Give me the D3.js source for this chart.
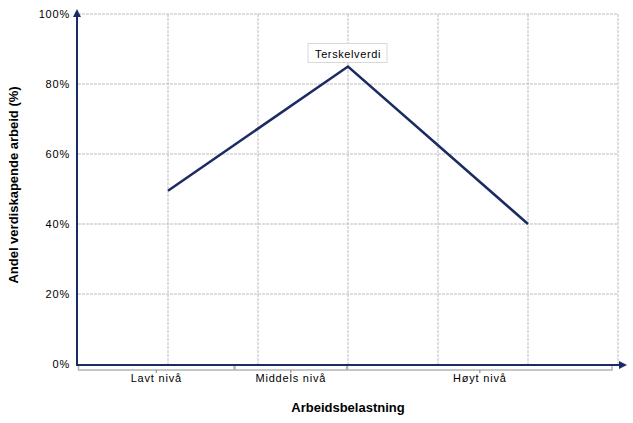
<!DOCTYPE html>
<html><head><meta charset="utf-8">
<script src="https://cdn.jsdelivr.net/npm/d3@7"></script>
<style>
body{margin:0;background:#fff;}
text{font-family:"Liberation Sans",Arial,sans-serif;}
</style></head>
<body><svg id="c" width="633" height="423"></svg>
<script>
// Data
const pointX = [1, 3, 5];
const pointY = [49.5, 85, 40];
const peakLabel = "Terskelverdi";
const yTicks = [0, 20, 40, 60, 80, 100];
const xGridTicks = [1, 2, 3, 4, 5, 6];
const groupLabels = ["Lavt nivå", "Middels nivå", "Høyt nivå"];
const groupBounds = [0, 1.74, 2.99, 5.94];
const yTitle = "Andel verdiskapende arbeid (%)";
const xTitle = "Arbeidsbelastning";

const svg = d3.select("#c");
const L = 78, R = 618, T = 14, B = 364;
const x = d3.scaleLinear().domain([0, 6]).range([L, R]);
const y = d3.scaleLinear().domain([0, 100]).range([B, T]);
const navy = "#1b2c62";

// grid
svg.append("g").selectAll("line").data(yTicks.filter(d => d > 0)).join("line")
  .attr("x1", L).attr("x2", R).attr("y1", d => y(d)).attr("y2", d => y(d))
  .attr("stroke", "#bdbdbd").attr("stroke-dasharray", "3,1").attr("stroke-width", 1);
svg.append("g").selectAll("line").data(xGridTicks).join("line")
  .attr("x1", d => x(d)).attr("x2", d => x(d)).attr("y1", T).attr("y2", B)
  .attr("stroke", "#bdbdbd").attr("stroke-dasharray", "3,1").attr("stroke-width", 1);

// y tick labels
svg.append("g").selectAll("text").data(yTicks).join("text")
  .attr("x", 70).attr("y", d => y(d) + 4).attr("text-anchor", "end")
  .attr("font-size", 11).attr("letter-spacing", 0.8).attr("fill", "#000")
  .text(d => d + "%");

// bracket axis for groups
const bg = svg.append("g");
groupLabels.forEach((lab, i) => {
  const a = x(groupBounds[i]), b = x(groupBounds[i + 1]);
  bg.append("path")
    .attr("d", `M${a + 0.5},366 V370 H${b - 0.5} V366`)
    .attr("fill", "none").attr("stroke", "#b4b4b4").attr("stroke-width", 1.5);
  const m = (a + b) / 2;
  bg.append("line").attr("x1", m).attr("x2", m).attr("y1", 370).attr("y2", 373)
    .attr("stroke", "#808080").attr("stroke-width", 1);
  bg.append("text").attr("x", m).attr("y", 382).attr("text-anchor", "middle")
    .attr("font-size", 11).attr("letter-spacing", 0.8).text(lab);
});

// axes
const defs = svg.append("defs");
defs.append("marker").attr("id", "arr").attr("viewBox", "0 0 10 10")
  .attr("refX", 5).attr("refY", 5).attr("markerWidth", 4).attr("markerHeight", 4)
  .attr("orient", "auto").append("path").attr("d", "M0,0 L10,5 L0,10 z").attr("fill", navy);
svg.append("line").attr("x1", L - 1).attr("x2", L - 1).attr("y1", B + 1).attr("y2", T - 1)
  .attr("stroke", navy).attr("stroke-width", 2).attr("marker-end", "url(#arr)");
svg.append("line").attr("x1", L - 2).attr("x2", 623).attr("y1", B + 1).attr("y2", B + 1)
  .attr("stroke", navy).attr("stroke-width", 2).attr("marker-end", "url(#arr)");

// line
svg.append("path").datum(pointX.map((d, i) => [d, pointY[i]]))
  .attr("d", d3.line().x(d => x(d[0])).y(d => y(d[1])))
  .attr("fill", "none").attr("stroke", navy).attr("stroke-width", 2.5);

// peak label
const pi = pointY.indexOf(d3.max(pointY));
const px = x(pointX[pi]), py = y(pointY[pi]);
svg.append("rect").attr("x", px - 40).attr("y", py - 23).attr("width", 79).attr("height", 19)
  .attr("fill", "#fff").attr("stroke", "#d8d8d8");
svg.append("text").attr("x", px).attr("y", py - 9).attr("text-anchor", "middle")
  .attr("font-size", 11).attr("letter-spacing", 0.6).text(peakLabel);

// titles
svg.append("text").attr("transform", "translate(18,185) rotate(-90)")
  .attr("text-anchor", "middle").attr("font-size", 13).attr("font-weight", "bold").text(yTitle);
svg.append("text").attr("x", 348).attr("y", 412).attr("text-anchor", "middle")
  .attr("font-size", 13).attr("font-weight", "bold").text(xTitle);
</script></body></html>
